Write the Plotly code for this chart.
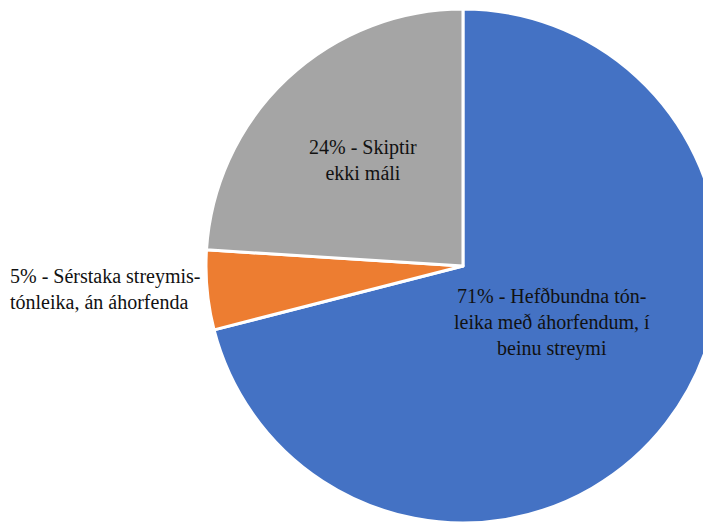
import plotly.graph_objects as go

labels = ["Hefðbundna tónleika með áhorfendum, í beinu streymi",
          "Sérstaka streymistónleika, án áhorfenda",
          "Skiptir ekki máli"]
values = [71, 5, 24]
colors = ["#4472C4", "#ED7D31", "#A5A5A5"]
label_texts = ["Hefðbundna tón-<br>leika með áhorfendum, í<br>beinu streymi",
               "Sérstaka streymis-<br>tónleika, án áhorfenda",
               "Skiptir<br>ekki máli"]

W, H = 760, 560

fig = go.Figure(go.Pie(
    labels=labels, values=values, sort=False, direction="clockwise", rotation=0,
    marker=dict(colors=colors, line=dict(color="white", width=3)),
    textinfo="none", hoverinfo="label+percent", showlegend=False,
    domain=dict(x=[0.2605, 0.9368], y=[0.0804, 0.9982]),
))

font = dict(family="Liberation Serif", size=20, color="#111111")
pos = [(544 / W, 1 - 314 / H, "center"), (0.0, 1 - 281 / H, "left"), (355 / W, 1 - 152 / H, "center")]
for v, t, (x, y, al) in zip(values, label_texts, pos):
    fig.add_annotation(x=x, y=y, xref="paper", yref="paper", text=f"{v}% - {t}", showarrow=False,
                       xanchor=al, yanchor="middle", align=al, font=font)

fig.update_layout(width=W, height=H, margin=dict(l=0, r=0, t=0, b=0),
                  paper_bgcolor="white", plot_bgcolor="white")
fig.write_html("out.html")
